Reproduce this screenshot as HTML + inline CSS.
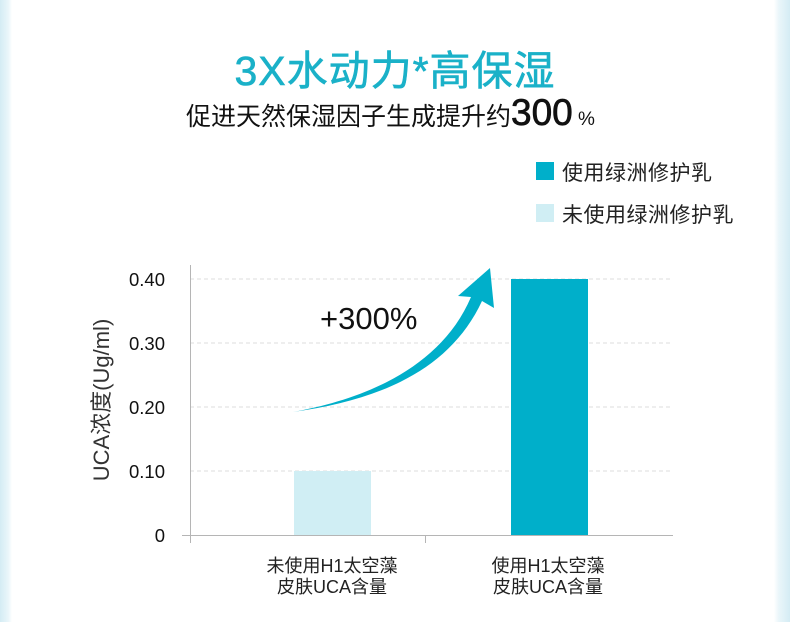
<!DOCTYPE html>
<html><head><meta charset="utf-8"><style>
body{margin:0;width:790px;height:622px;overflow:hidden;background:#fff;font-family:"Liberation Sans","Noto Sans CJK SC",sans-serif;}
.bl{position:absolute;top:0;left:0;width:12px;height:622px;background:linear-gradient(90deg,#d4ecf4,#eaf6fa 70%,#fff);}
.br{position:absolute;top:0;right:0;width:16px;height:622px;background:linear-gradient(270deg,#d4ecf4,#eaf6fa 70%,#fff);}
.t{position:absolute;}
</style></head><body>
<div class="bl"></div><div class="br"></div>
<div class="t" style="left:0;width:790px;top:37px;text-align:center;font-size:41px;color:#1ab1c8;letter-spacing:1px;-webkit-text-stroke:0.6px #1ab1c8">3X水动力*高保湿</div>
<div class="t" style="left:186px;top:92px;font-size:25px;color:#111;white-space:nowrap">促进天然保湿因子生成提升约<span style="font-size:37px;-webkit-text-stroke:0.7px #111">300</span><span style="font-size:19px"> %</span></div>
<div class="t" style="left:536px;top:162px;width:18px;height:18px;background:#00afca"></div>
<div class="t" style="left:562px;top:157px;font-size:21px;color:#222;letter-spacing:0.5px">使用绿洲修护乳</div>
<div class="t" style="left:536px;top:204px;width:18px;height:18px;background:#d0eef4"></div>
<div class="t" style="left:562px;top:199px;font-size:21px;color:#222;letter-spacing:0.5px">未使用绿洲修护乳</div>
<svg class="t" style="left:0;top:0" width="790" height="622">
<g stroke="#ddd" stroke-dasharray="4,3" stroke-width="1">
<line x1="190" y1="279" x2="673" y2="279"/><line x1="190" y1="343" x2="673" y2="343"/>
<line x1="190" y1="407" x2="673" y2="407"/><line x1="190" y1="471" x2="673" y2="471"/></g>
<rect x="294" y="471" width="77" height="64" fill="#d0eef4"/>
<rect x="511" y="279" width="77" height="256" fill="#00afca"/>
<g stroke="#b5b5b5" stroke-width="1">
<line x1="190.5" y1="265" x2="190.5" y2="543"/><line x1="182" y1="535.5" x2="673" y2="535.5"/>
<line x1="425.5" y1="535" x2="425.5" y2="543"/></g>
<path d="M293,412 C360,400 440,370 471,297 L458,296 L490,268 L494,308 L482,301 C450,370 380,400 293,412 Z" fill="#00afca"/>
<g font-size="18.5" fill="#111" text-anchor="end" font-family="Liberation Sans,sans-serif">
<text x="165" y="286">0.40</text><text x="165" y="350">0.30</text><text x="165" y="414">0.20</text><text x="165" y="478">0.10</text><text x="165" y="542">0</text></g>
<text x="320" y="329" font-size="31" fill="#111" font-family="Liberation Sans,sans-serif">+300%</text>
<text transform="translate(109,400) rotate(-90)" text-anchor="middle" font-size="22" fill="#333">UCA浓度(Ug/ml)</text>
<g font-size="18" fill="#222" text-anchor="middle">
<text x="332" y="572">未使用H1太空藻</text><text x="332" y="593">皮肤UCA含量</text>
<text x="548" y="572">使用H1太空藻</text><text x="548" y="593">皮肤UCA含量</text></g>
</svg>
</body></html>
